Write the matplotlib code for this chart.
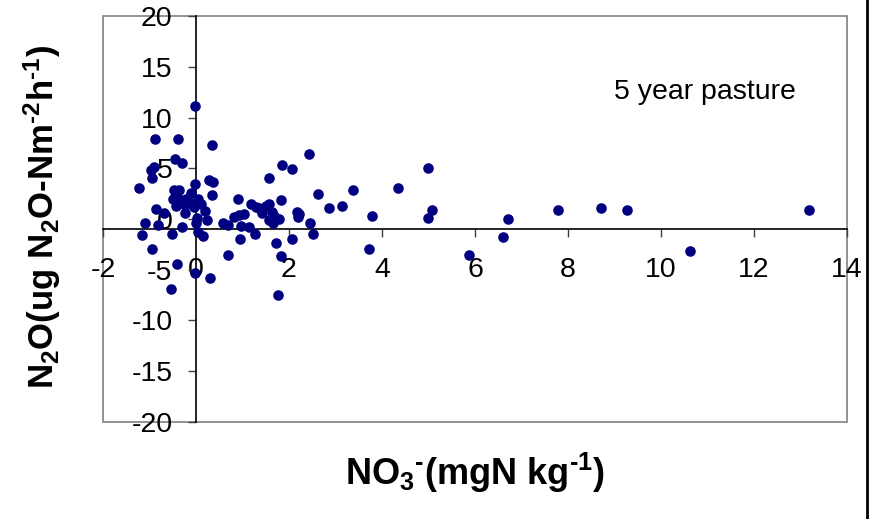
import matplotlib
matplotlib.use('Agg')
import matplotlib.pyplot as plt
from matplotlib.patches import Rectangle
from matplotlib.lines import Line2D

plt.rcParams['font.family'] = ['Liberation Sans', 'DejaVu Sans']
plt.rcParams['axes.unicode_minus'] = False
plt.rcParams['mathtext.fontset'] = 'custom'
plt.rcParams['mathtext.rm'] = 'Liberation Sans:bold'
plt.rcParams['mathtext.default'] = 'rm'

# NO3- (mgN/kg) vs N2O flux
no3 = [-0.02, -0.89, -0.38, 0.35, -0.45, -0.30, -0.91, -0.96, -0.94, -1.22,
       -0.02, 0.27, 0.37, 0.35, -0.48, -0.37, -0.42, -0.11, -0.22, -0.33,
       0.05, -0.44, -0.24, -0.04, -0.24, -0.86, -0.69, 0.19, 0.24, 0.03,
       -0.01, 0.05, -1.09, -0.81, -0.30, -1.17, -0.52, 0.15, -0.94, -0.40,
       -0.02, 0.31, -0.53, -0.15, 0.10, -0.50,
       0.57, 0.68, 0.82, 0.93, 0.91, 0.68, 0.94, 0.96, 1.14, 1.27,
       1.04, 1.18, 1.36, 1.42, 1.56, 1.63, 1.79, 1.65, 1.83, 1.56,
       1.86, 2.07, 2.43, 2.63, 2.87, 3.15, 3.38, 2.17, 2.21, 2.19,
       2.46, 2.51, 2.07, 1.71, 1.83, 1.76, 1.50, 1.68, 1.58, 1.30,
       3.71, 3.79, 4.35, 4.98, 5.07, 4.98, 5.87, 6.71, 6.60, 7.79,
       8.70, 9.27, 10.63, 13.19]
n2o = [11.1, 7.85, 7.85, 7.3, 5.9, 5.5, 5.1, 4.85, 4.0, 3.1,
       3.4, 3.84, 3.6, 2.4, 2.9, 2.9, 2.4, 2.6, 2.0, 1.9,
       2.0, 1.3, 1.4, 1.2, 0.6, 0.95, 0.56, 0.75, -0.05, 0.07,
       -0.4, -1.25, -0.36, -0.6, -0.75, -1.58, -1.48, -1.65, -3.0, -4.4,
       -5.3, -5.85, -6.85, 1.7, 1.5, 2.0,
       -0.36, -0.6, 0.17, 0.4, 2.0, -3.5, -2.0, -0.7, -0.75, -1.5,
       0.5, 1.45, 1.05, 0.6, 1.5, 0.7, -0.03, -0.4, 1.9, 4.0,
       5.3, 4.9, 6.4, 2.5, 1.05, 1.25, 2.9, 0.7, 0.5, 0.17,
       -0.36, -1.5, -2.0, -2.4, -3.6, -7.5, 1.3, 0.3, -0.1, 1.2,
       -2.96, 0.3, 3.1, 5.05, 0.9, 0.13, -3.55, -0.03, -1.74, 0.89,
       1.05, 0.89, -3.15, 0.89]

xticks = [-2, 0, 2, 4, 6, 8, 10, 12, 14]
yticks = [-20, -15, -10, -5, 0, 5, 10, 15, 20]

fig = plt.figure(figsize=(8.71, 5.19), dpi=100)
ax = fig.add_axes([0.11825, 0.1869, 0.85419, 0.78227])

ax.scatter(no3, n2o, s=58, color='#000080', zorder=3, linewidths=0)

ax.set_xlim(-2, 14)
ax.set_ylim(-20, 20)
ax.set_xticks(xticks)
ax.set_yticks(yticks)

# excel style: axes crossing inside the plot area
ax.spines['left'].set_position(('data', 0))
ax.spines['bottom'].set_position(('data', -1))
ax.spines['top'].set_visible(False)
ax.spines['right'].set_visible(False)
for s in ['left', 'bottom']:
    ax.spines[s].set_linewidth(1.2)
    ax.spines[s].set_color('black')
ax.tick_params(axis='both', direction='out', length=6, width=1,
               color='#404040', labelsize=20.5)
ax.tick_params(axis='y', pad=11)
ax.tick_params(axis='x', pad=14)

ax.add_patch(Rectangle((0, 0), 1, 1, transform=ax.transAxes, fill=False,
                       edgecolor='#808080', linewidth=1.2, clip_on=False))

ax.text(9.0, 11.8, '5 year pasture', fontsize=20.5, ha='left', va='baseline')

fig.text(0.048, 0.582, r'N$_2$O(ug N$_2$O-Nm$^{\text{-}2}$h$^{\text{-}1}$)',
         rotation=90, ha='center', va='center', fontsize=25, fontweight='bold')
fig.text(0.545, 0.089, r'NO$_3$$^{\text{-}}$(mgN kg$^{\text{-}1}$)',
         ha='center', va='center', fontsize=26, fontweight='bold')

fig.add_artist(Line2D([0.995, 0.995], [0, 1], color='black', linewidth=2))

fig.savefig('out.png', dpi=100)
